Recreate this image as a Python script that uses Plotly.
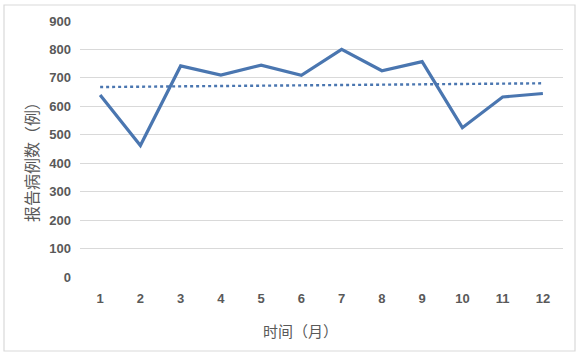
import numpy as np
import plotly.graph_objects as go

# Monthly reported cases
months = ["1", "2", "3", "4", "5", "6", "7", "8", "9", "10", "11", "12"]
cases = [640, 462, 742, 710, 745, 709, 800, 725, 757, 525, 633, 645]
y_ticks = [0, 100, 200, 300, 400, 500, 600, 700, 800, 900]

# Linear trend line over month index
idx = np.arange(1, len(cases) + 1)
slope, intercept = np.polyfit(idx, cases, 1)
trend = slope * idx + intercept

W, H = 578, 355
ml, mr, mt, mb = 80, 15, 21, 78
pw, ph = W - ml - mr, H - mt - mb

line_color = "#4a76b0"
tick_font = dict(family="Liberation Sans, Arial, sans-serif", size=13, color="#595959", weight="bold")
cjk_font = dict(family="Noto Sans CJK SC", size=15, color="#595959")

fig = go.Figure()
fig.add_trace(go.Scatter(x=months, y=cases, mode="lines",
                         line=dict(color=line_color, width=3.2), showlegend=False))
fig.add_trace(go.Scatter(x=months, y=trend, mode="lines",
                         line=dict(color=line_color, width=2.4, dash="dot"), showlegend=False))

def px_x(p):
    return (p - ml) / pw

def px_y(p):
    return (H - mb - p) / ph

fig.update_layout(
    width=W, height=H,
    margin=dict(l=ml, r=mr, t=mt, b=mb),
    paper_bgcolor="white", plot_bgcolor="white",
    xaxis=dict(type="category", range=[-0.5, 11.5], showgrid=False, showline=False,
               ticks="", tickfont=tick_font, ticklabelstandoff=12),
    yaxis=dict(range=[0, 900], tickvals=y_ticks, showgrid=True, gridcolor="#d9d9d9",
               gridwidth=1, zeroline=False, showline=False, ticks="",
               tickfont=tick_font, ticklabelstandoff=8),
    shapes=[dict(type="rect", xref="paper", yref="paper",
                 x0=px_x(4), x1=px_x(575), y0=px_y(351), y1=px_y(5),
                 line=dict(color="#d9d9d9", width=1.2), fillcolor="rgba(0,0,0,0)",
                 layer="below")],
    annotations=[
        dict(text="时间（月）", xref="paper", yref="paper", x=px_x(300), y=px_y(330),
             showarrow=False, font=cjk_font, xanchor="center", yanchor="middle"),
        dict(text="报告病例数（例）", xref="paper", yref="paper", x=px_x(31), y=px_y(158),
             showarrow=False, font=dict(cjk_font, size=16), textangle=-90,
             xanchor="center", yanchor="middle"),
    ],
)

fig.write_html("out.html")
